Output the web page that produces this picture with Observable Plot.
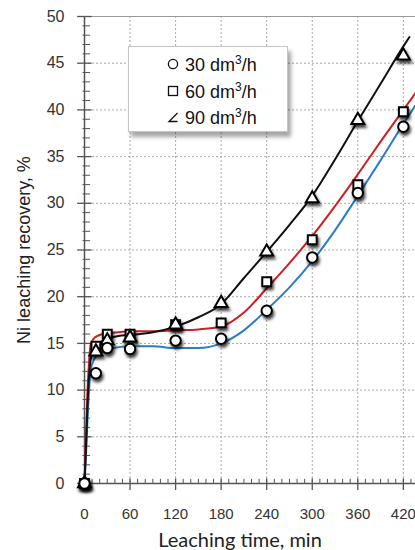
<!DOCTYPE html>
<html>
<head>
<meta charset="utf-8">
<script src="https://cdn.jsdelivr.net/npm/d3@7"></script>
<script src="https://cdn.jsdelivr.net/npm/@observablehq/plot@0.6"></script>
<style>
  html, body { margin: 0; padding: 0; background: #fff; }
  #wrap { position: relative; width: 415px; height: 550px; overflow: hidden; }
  .legend {
    position: absolute; left: 128px; top: 46px; width: 160px; height: 86px;
    background: #fff; border: 1px solid #c4c4c4; box-sizing: border-box;
    box-shadow: 3px 5px 4px rgba(0,0,0,0.35);
    font-family: "Liberation Sans", Arial, sans-serif; font-size: 18px; color: #111;
  }
  .legend .row { position: absolute; left: 38px; height: 26px; line-height: 26px; white-space: nowrap; }
  .legend .row svg { vertical-align: middle; margin-right: 6px; position: relative; top: -2px; }
  .legend sup { font-size: 12px; vertical-align: 7px; line-height: 0; }
</style>
</head>
<body>
<div id="wrap"></div>
<script>
// Sampling times (min) and measured Ni recovery (%) at three air flow rates
const times = [0, 15, 30, 60, 120, 180, 240, 300, 360, 420];
const rec30 = [0, 11.8, 14.5, 14.4, 15.3, 15.5, 18.5, 24.2, 31.1, 38.2];
const rec60 = [0, 14.7, 16.0, 16.0, 17.0, 17.2, 21.6, 26.1, 32.0, 39.8];
const rec90 = [0, 14.1, 15.3, 15.6, 17.0, 19.3, 24.8, 30.5, 38.9, 45.8];

// Smoothed trend curves for each flow rate
const fitTime = [0, 2, 4, 6, 8, 12, 20, 30, 45, 60, 90, 120, 150, 180, 210, 240, 270, 300, 330, 360, 390, 420, 436];
const fit30 = [0, 3, 7, 10, 12, 13.2, 13.9, 14.3, 14.6, 14.7, 14.7, 14.5, 14.5, 15.0, 16.4, 18.6, 21.0, 23.8, 27.1, 30.8, 34.6, 38.5, 40.5];
const fit60 = [0, 5, 10, 13, 14.8, 15.5, 15.9, 16.1, 16.2, 16.3, 16.3, 16.4, 16.5, 16.8, 18.3, 20.9, 23.6, 26.5, 29.7, 33.1, 36.6, 40.0, 41.8];
const fitTime90 = [0, 2, 4, 6, 8, 12, 20, 30, 45, 60, 90, 120, 150, 180, 210, 240, 270, 300, 330, 360, 390, 420, 428];
const fit90 = [0, 4, 8.5, 11.5, 13.2, 14.4, 15.1, 15.5, 15.8, 15.9, 16.2, 16.8, 17.8, 19.2, 22.0, 24.8, 27.7, 30.8, 34.7, 38.8, 42.8, 46.8, 47.8];

// Axis ticks
const xTicks = [0, 60, 120, 180, 240, 300, 360, 420];
const xMinor = d3.range(0, 431, 10).filter(t => t % 60 !== 0);
const yTicks = [0, 5, 10, 15, 20, 25, 30, 35, 40, 45, 50];
const yMinor = d3.range(0, 50, 1).filter(v => v % 5 !== 0);

const seriesNames = ["30 dm³/h", "60 dm³/h", "90 dm³/h"];
const lineColors = ["#2b7cc7", "#cc1f26", "#111111"];

const pts = (ys) => times.map((t, i) => ({t, v: ys[i]}));
const fit = (ts, ys) => ts.map((t, i) => ({t, v: ys[i]}));

const chart = Plot.plot({
  width: 415,
  height: 550,
  marginTop: 16,
  marginBottom: 67,
  marginLeft: 84,
  marginRight: 0,
  x: {domain: [0, 436], axis: null},
  y: {domain: [0, 50], axis: null},
  style: {fontFamily: "Liberation Sans, Arial, sans-serif", fontSize: "16px", background: "#fff", overflow: "visible"},
  marks: [
    // dotted grid
    Plot.ruleY(yTicks.filter(v => v > 0 && v < 50), {stroke: "#a8a8a8", strokeDasharray: "2,2", strokeWidth: 1}),
    Plot.ruleX(xTicks.filter(v => v > 0), {stroke: "#a8a8a8", strokeDasharray: "2,2", strokeWidth: 1}),
    Plot.ruleY([50], {stroke: "#9a9a9a", strokeWidth: 1}),
    // axis lines and ticks
    Plot.ruleX([0], {stroke: "#555", strokeWidth: 1.5}),
    Plot.ruleY([0], {stroke: "#555", strokeWidth: 1.5}),
    Plot.ruleX(xTicks, {y1: -0.75, y2: 0.5, stroke: "#555", strokeWidth: 1.3}),
    Plot.ruleX(xMinor, {y1: -0.1, y2: 0.45, stroke: "#555", strokeWidth: 1}),
    Plot.ruleY(yTicks, {x1: -9, x2: 10, stroke: "#555", strokeWidth: 1.3}),
    Plot.ruleY(yMinor, {x1: -2, x2: 8, stroke: "#555", strokeWidth: 1}),
    Plot.axisX(xTicks, {tickSize: 0, tickPadding: 25, fontSize: 15, fill: "#333", label: null}),
    Plot.axisY(yTicks, {tickSize: 0, tickPadding: 20, fill: "#333", label: null}),
    // trend curves
    Plot.line(fit(fitTime, fit30), {x: "t", y: "v", stroke: lineColors[0], strokeWidth: 2, curve: "monotone-x"}),
    Plot.line(fit(fitTime, fit60), {x: "t", y: "v", stroke: lineColors[1], strokeWidth: 2, curve: "monotone-x"}),
    Plot.line(fit(fitTime90, fit90), {x: "t", y: "v", stroke: lineColors[2], strokeWidth: 2, curve: "monotone-x"}),
    // measured points
    Plot.dot(pts(rec60), {x: "t", y: "v", symbol: "square", r: 5, fill: "#fff", stroke: "#000", strokeWidth: 2}),
    Plot.dot(pts(rec90), {x: "t", y: "v", symbol: "triangle", r: 4.8, fill: "#fff", stroke: "#000", strokeWidth: 2}),
    Plot.dot(pts(rec30), {x: "t", y: "v", symbol: "circle", r: 5.2, fill: "#fff", stroke: "#000", strokeWidth: 2}),
    // axis titles
    Plot.text(["Leaching time, min"], {frameAnchor: "bottom", lineAnchor: "bottom", dx: -10, dy: 63, fontSize: 20, fontFamily: "Lato, 'Open Sans', sans-serif", fill: "#222"}),
    Plot.text(["Ni leaching recovery, %"], {frameAnchor: "left", textAnchor: "middle", lineAnchor: "middle", dx: -60, rotate: -90, fontSize: 18, fill: "#222"})
  ]
});

// soft drop shadow under the markers
const svg = d3.select(chart.tagName.toLowerCase() === "svg" ? chart : chart.querySelector("svg"));
const defs = svg.insert("defs", ":first-child");
const f = defs.append("filter").attr("id", "mk-shadow").attr("x", "-60%").attr("y", "-60%").attr("width", "260%").attr("height", "260%");
f.append("feDropShadow").attr("dx", 1.5).attr("dy", 3).attr("stdDeviation", 1.6).attr("flood-color", "#000").attr("flood-opacity", 0.75);
svg.selectAll('g[aria-label="dot"] > *').attr("filter", "url(#mk-shadow)");

const wrap = document.getElementById("wrap");
wrap.appendChild(chart);

// legend box
const legend = document.createElement("div");
legend.className = "legend";
const symbolsSvg = [
  '<svg width="12" height="12" viewBox="0 0 12 12"><circle cx="6" cy="6" r="4.6" fill="none" stroke="#111" stroke-width="1.3"/></svg>',
  '<svg width="12" height="12" viewBox="0 0 12 12"><rect x="1.5" y="1.5" width="9" height="9" fill="none" stroke="#111" stroke-width="1.3"/></svg>',
  '<svg width="12" height="12" viewBox="0 0 12 12"><path d="M10.5,2 L2,10.5 L10.5,10.5" fill="none" stroke="#111" stroke-width="1.3"/></svg>'
];
const rowTops = [5, 32, 58];
seriesNames.forEach((name, i) => {
  const row = document.createElement("div");
  row.className = "row";
  row.style.top = rowTops[i] + "px";
  const num = name.split(" ")[0];
  row.innerHTML = symbolsSvg[i] + num + " dm<sup>3</sup>/h";
  legend.appendChild(row);
});
wrap.appendChild(legend);
</script>
</body>
</html>
